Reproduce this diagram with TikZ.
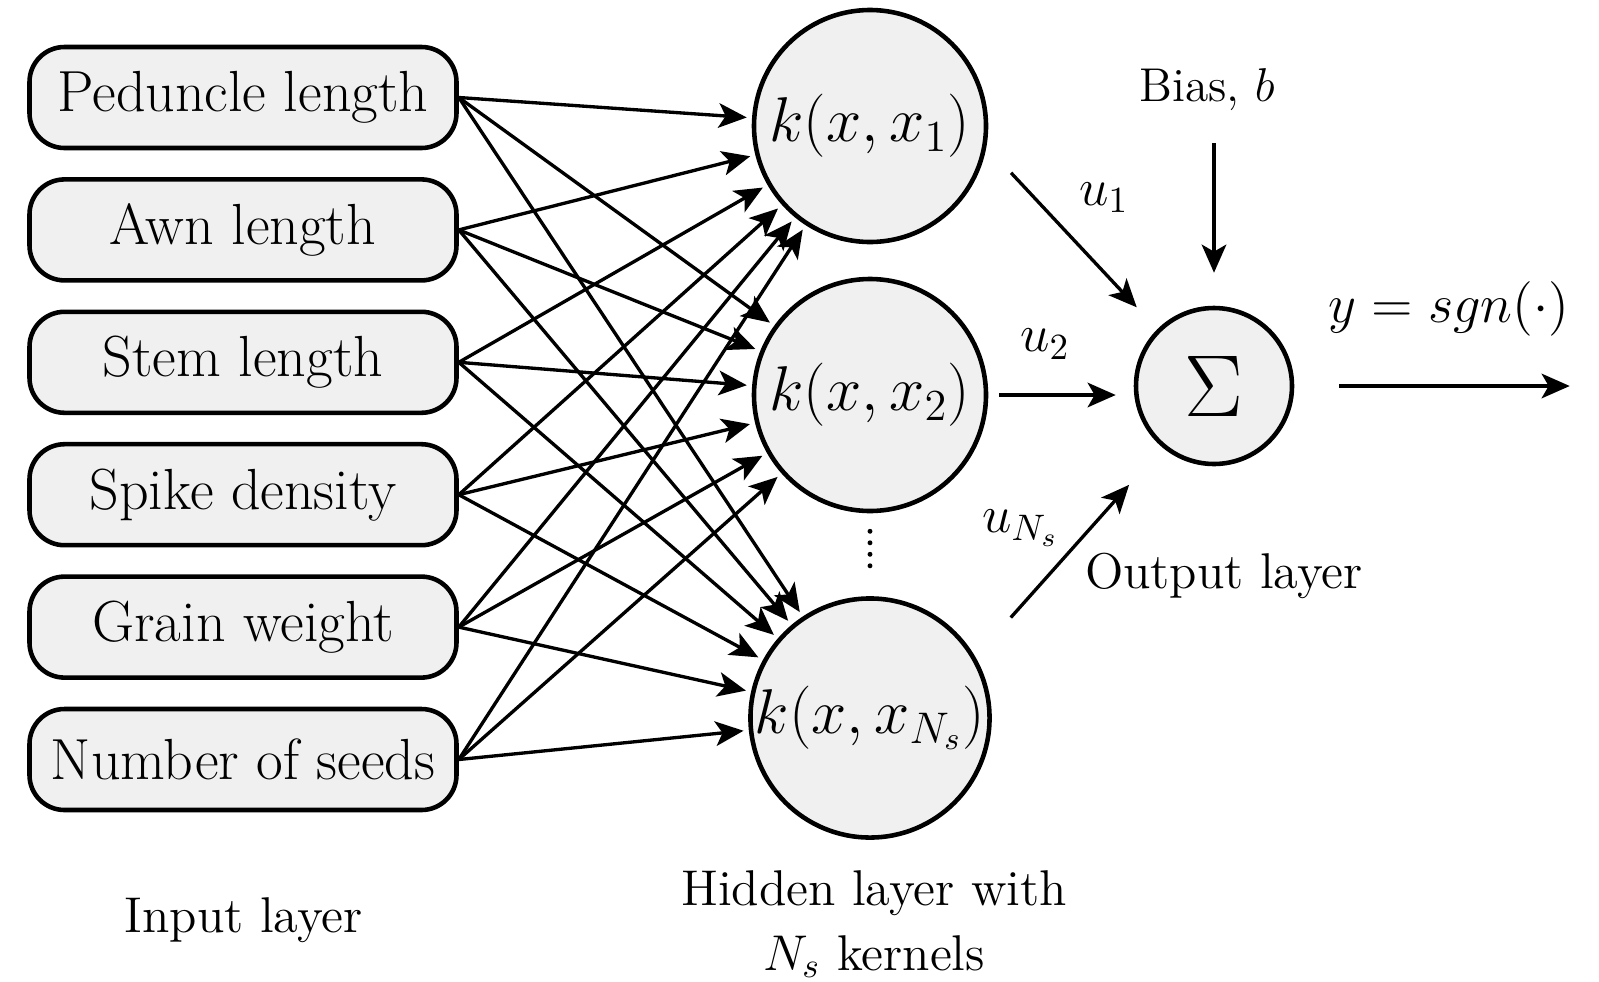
\RequirePackage{fix-cm}
\documentclass[tikz,border=0pt]{standalone}
\usetikzlibrary{positioning,arrows.meta}
\begin{document}
\begin{tikzpicture}[node distance=1.324cm, auto,
      >={Stealth[length=8pt,width=7pt,inset=2pt]},
      conn/.style={->, line width=0.95pt, shorten >=1.5pt},
      inputbox/.style={draw, fill=gray!12, line width=1.3pt, rounded corners=0.35cm,
         minimum width=4.27cm, minimum height=1.01cm, inner xsep=2pt,
         font=\fontsize{16.5}{19}\selectfont},
      kernel/.style={circle, draw, fill=gray!12, line width=1.3pt, minimum size=2.32cm,
         inner sep=0pt, font=\fontsize{18}{21}\selectfont},
      layertext/.style={font=\fontsize{14.3}{18.4}\selectfont, align=center},
      weight/.style={font=\fontsize{15}{17}\selectfont, inner sep=1pt}]
      \useasboundingbox (0,0) rectangle (15.99,-9.81);
      % input layer
      \node (Peduncle) [inputbox] at (2.43,-0.975) {
         Peduncle length
      };
      \node (Awn) [inputbox, below of=Peduncle] {
         Awn length
      };
      \node (Stem) [inputbox, below of=Awn] {
         Stem length
      };
      \node (Spike) [inputbox, below of=Stem] {
         Spike density
      };
      \node (Grain) [inputbox, below of=Spike] {
         Grain weight
      };
      \node (Seeds) [inputbox, below of=Grain] {
         Number of seeds
      };
      % hidden layer
      \node (k1) [kernel] at (8.70,-1.26) {
         $k(x,x_1)$
      };
      \node (k2) [kernel] at (8.70,-3.95) {
         $k(x,x_2)$
      };
      \node (kN) [kernel] at (8.70,-7.18) {
         $k(x,x_{N_s})$
      };
      % output layer
      \node (sum) [kernel, minimum size=1.56cm, font=\fontsize{25}{28}\selectfont] at (12.14,-3.86) {
         $\Sigma$
      };
      \node (bias) [weight, font=\fontsize{13.5}{16}\selectfont] at (12.07,-0.90) {
         Bias, $b$
      };
      \coordinate (yend) at (15.75,-3.86);
      \node (inlabel) [layertext] at (2.52,-9.20) {
         Input layer
      };
      \node (hidlabel) [layertext] at (8.74,-9.24) {
         Hidden layer with\\ $N_s$ kernels
      };
      \node (outlabel) [layertext] at (12.32,-5.76) {
         Output layer
      };
      \draw[conn] (Peduncle.east) to (k1);
      \draw[conn] (Peduncle.east) to (k2);
      \draw[conn] (Peduncle.east) to (kN);
      \draw[conn] (Awn.east) to (k1);
      \draw[conn] (Awn.east) to (k2);
      \draw[conn] (Awn.east) to (kN);
      \draw[conn] (Stem.east) to (k1);
      \draw[conn] (Stem.east) to (k2);
      \draw[conn] (Stem.east) to (kN);
      \draw[conn] (Spike.east) to (k1);
      \draw[conn] (Spike.east) to (k2);
      \draw[conn] (Spike.east) to (kN);
      \draw[conn] (Grain.east) to (k1);
      \draw[conn] (Grain.east) to (k2);
      \draw[conn] (Grain.east) to (kN);
      \draw[conn] (Seeds.east) to (k1);
      \draw[conn] (Seeds.east) to (k2);
      \draw[conn] (Seeds.east) to (kN);
      \draw[line width=1.4pt, line cap=round, dash pattern=on 0pt off 0.115cm,
         shorten <=0.18cm, shorten >=0.26cm] (k2.south) -- (kN.north);
      \draw[conn, shorten <=0.36cm, shorten >=0.3cm] (k1.-10) to node [weight, pos=0.45, above right=0.15cm] {$u_1$} (sum.135);
      \draw[conn, shorten <=0.11cm, shorten >=0.18cm] (k2.east) to node [weight, pos=0.39, above=0.3cm] {$u_2$} (k2.east -| sum.west);
      \draw[conn, shorten <=0.53cm, shorten >=0.5cm] (kN.30) to node [weight, pos=0.49, above left=0.04cm] {$u_{N_s}$} (sum.-130);
      \draw[conn, shorten <=0.28cm, shorten >=0.33cm] (bias.south -| sum.north) to (sum.north);
      \draw[conn, shorten <=0.45cm] (sum.east) to node [weight, pos=0.55, above=0.45cm, font=\fontsize{15.5}{18}\selectfont] {$y = sgn(\cdot)$} (yend);
      \end{tikzpicture}
\end{document}
